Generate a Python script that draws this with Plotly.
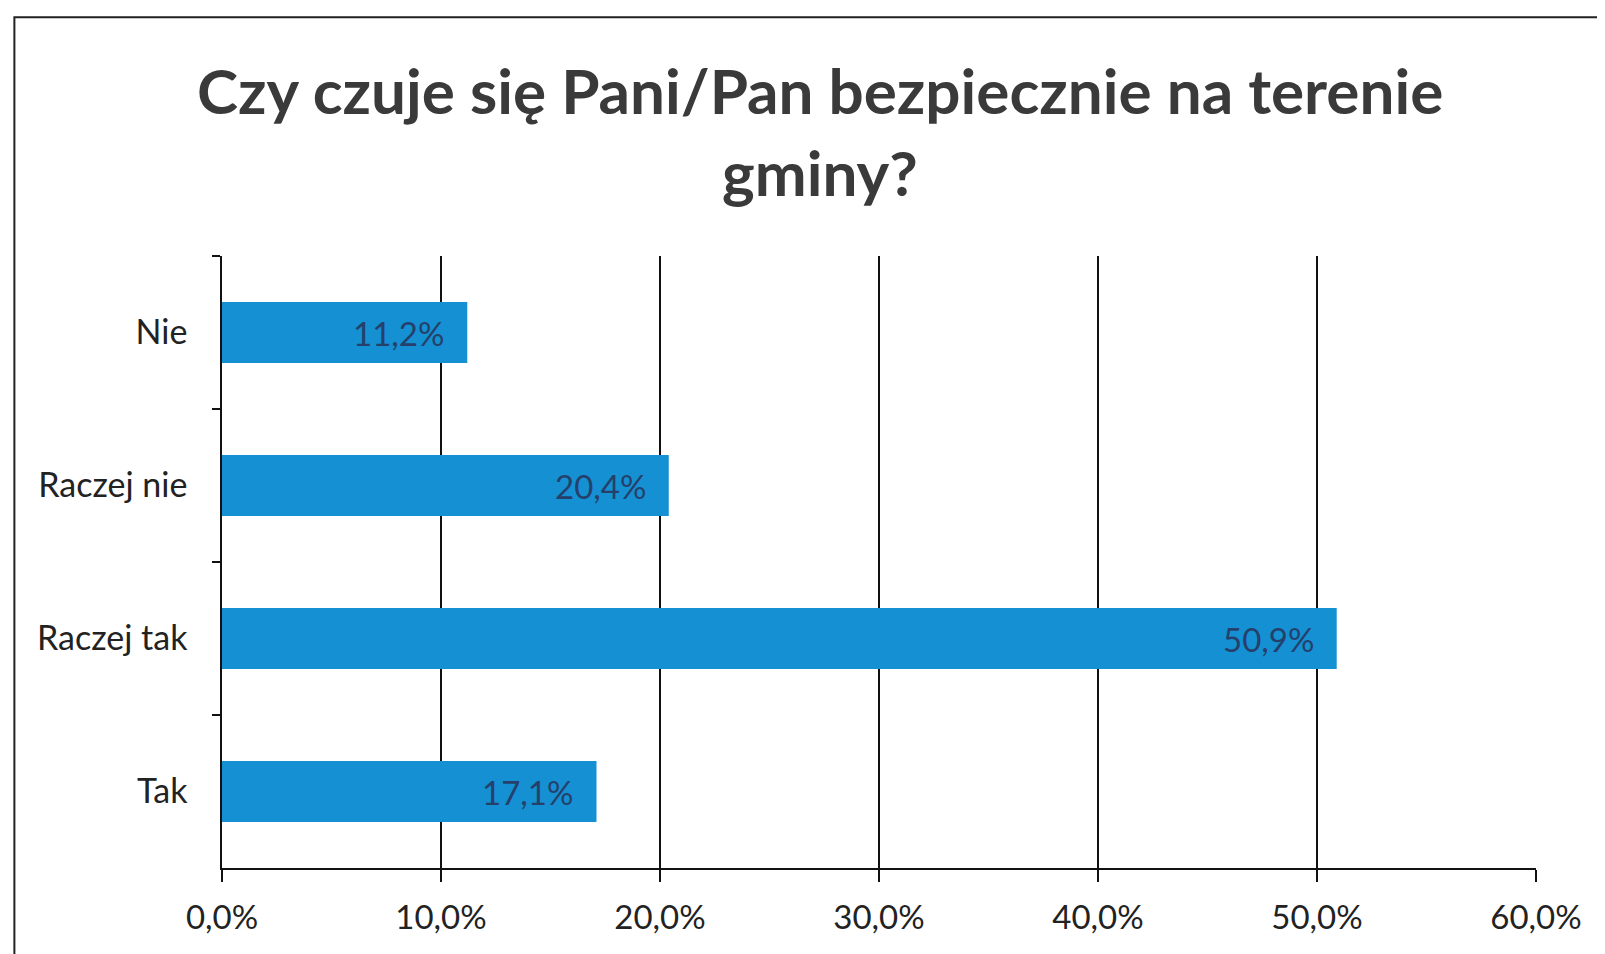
import plotly.graph_objects as go

categories = ["Nie", "Raczej nie", "Raczej tak", "Tak"]
values = [11.2, 20.4, 50.9, 17.1]
x_ticks = [0, 10, 20, 30, 40, 50, 60]

BAR_COLOR = "#1590d2"
LABEL_COLOR = "#24406b"
FONT = "Lato, 'Open Sans', sans-serif"

fig = go.Figure()

fig.add_trace(
    go.Bar(
        x=values,
        y=categories,
        orientation="h",
        marker=dict(color=BAR_COLOR, line=dict(width=0)),
        hoverinfo="skip",
    )
)

for cat, val in zip(categories, values):
    fig.add_annotation(
        x=val,
        y=cat,
        text=f"{val:.1f}%".replace(".", ","),
        showarrow=False,
        xanchor="right",
        xshift=-21,
        font=dict(family=FONT, size=33, color=LABEL_COLOR),
    )

# two title lines placed separately to get the wide line spacing
fig.add_annotation(
    x=0.455, y=1.272, xref="paper", yref="paper",
    text="<b>Czy czuje się Pani/Pan bezpiecznie na terenie</b>",
    showarrow=False, xanchor="center", yanchor="middle",
    font=dict(family=FONT, size=62, color="#3a3a3a"),
)
fig.add_annotation(
    x=0.455, y=1.138, xref="paper", yref="paper",
    text="<b>gminy?</b>",
    showarrow=False, xanchor="center", yanchor="middle",
    font=dict(family=FONT, size=62, color="#3a3a3a"),
)

# outer chart frame (only left and top visible in the scan)
fig.add_shape(
    type="rect", xref="paper", yref="paper",
    x0=-0.158, x1=1.2, y0=-0.4, y1=1.39,
    line=dict(color="#222222", width=2),
    layer="below",
)

fig.update_xaxes(
    range=[0, 60],
    tickvals=x_ticks,
    ticktext=[f"{t:.1f}%".replace(".", ",") for t in x_ticks],
    showgrid=True,
    gridcolor="#111111",
    gridwidth=1.5,
    zeroline=False,
    showline=True,
    linecolor="#111111",
    linewidth=1.5,
    ticks="outside",
    ticklen=12,
    tickwidth=1.5,
    tickcolor="#111111",
    ticklabelstandoff=8,
    tickfont=dict(family=FONT, size=33, color="#222222"),
    fixedrange=True,
)
fig.update_yaxes(
    autorange="reversed",
    showline=True,
    linecolor="#111111",
    linewidth=1.5,
    ticks="outside",
    tickson="boundaries",
    ticklen=8,
    tickwidth=1.5,
    tickcolor="#111111",
    ticklabelstandoff=26,
    tickfont=dict(family=FONT, size=34, color="#222222"),
    fixedrange=True,
)

# the page body adds an 8px offset, margins compensate for it
fig.update_layout(
    width=1605,
    height=954,
    margin=dict(l=214, r=77, t=248, b=94),
    paper_bgcolor="white",
    plot_bgcolor="white",
    bargap=0.6,
    showlegend=False,
)

fig.write_html("out.html", config={"displayModeBar": False})
